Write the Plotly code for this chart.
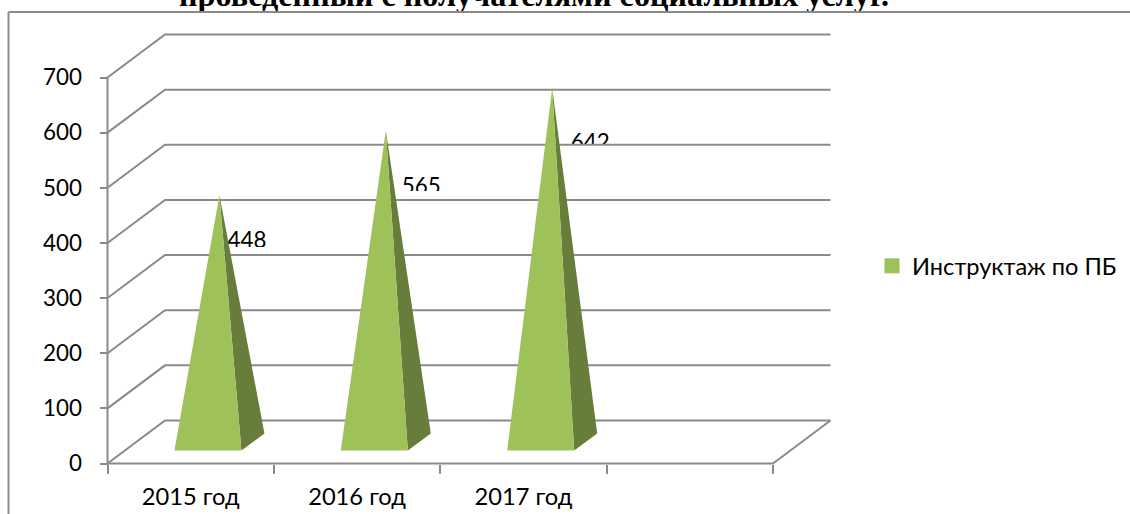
import plotly.graph_objects as go

# --- data ---
categories = ["2015 год", "2016 год", "2017 год"]
values = [448, 565, 642]
series_name = "Инструктаж по ПБ"
y_ticks = [0, 100, 200, 300, 400, 500, 600, 700]
title_text = "<b>проведенный с получателями социальных услуг.</b>"

# --- layout constants (page pixels) ---
W, H = 1130, 514
PX_L, PX_R, PX_B, PX_T = 107.5, 773.0, 463.5, 77.5
N_SLOTS = 4
YMAX = 700
PX_PER_X = (PX_R - PX_L) / N_SLOTS
PX_PER_Y = (PX_B - PX_T) / YMAX
DEPTH_X = 57.5 / PX_PER_X
DEPTH_Y = 43.0 / PX_PER_Y
HALF_W = 33.5 / PX_PER_X
GREY = "#8a8a8a"
FRONT = "#9fc15a"
SIDE = "#677d3b"
FONT = "Lato"


def xd(px):
    return (px - PX_L) / PX_PER_X


def yd(py):
    return (PX_B - py) / PX_PER_Y


fig = go.Figure()

# page-level title, cut by the frame below it
fig.add_trace(go.Scatter(
    x=[xd(534)], y=[yd(14)], mode="text", text=[title_text],
    textfont=dict(family="Liberation Serif", size=32.2, color="black"),
    textposition="top center", hoverinfo="skip", showlegend=False))
fig.add_trace(go.Scatter(
    x=[xd(150), xd(950), xd(950), xd(150), xd(150)],
    y=[yd(11), yd(11), yd(30), yd(30), yd(11)],
    mode="none", fill="toself", fillcolor="white",
    hoverinfo="skip", showlegend=False))

# data labels, cut off as in the reference
label_dx = [27.5, 35.5, 38.0]
label_cy = [242.5, 188.5, 144.5]
label_clip = [247, 191, 144]
centers = [i + 0.5 for i in range(len(values))]
fig.add_trace(go.Scatter(
    x=[c + DEPTH_X / 2 + d / PX_PER_X for c, d in zip(centers, label_dx)],
    y=[yd(p) for p in label_cy],
    mode="text", text=[str(v) for v in values],
    textfont=dict(family=FONT, size=22.4, color="black"),
    textposition="middle center", hoverinfo="skip", showlegend=False))
mx, my = [], []
for c, d, p in zip(centers, label_dx, label_clip):
    cx = c + DEPTH_X / 2 + d / PX_PER_X
    hw = 26 / PX_PER_X
    mx += [cx - hw, cx + hw, cx + hw, cx - hw, cx - hw, None]
    my += [yd(p), yd(p), yd(p + 14), yd(p + 14), yd(p), None]
fig.add_trace(go.Scatter(x=mx, y=my, mode="none", fill="toself", fillcolor="white",
                         hoverinfo="skip", showlegend=False))

# 3D walls: back gridlines, floor edge and the two front axis lines
gx, gy = [], []
for t in y_ticks:
    gx += [0, DEPTH_X, N_SLOTS + DEPTH_X, None]
    gy += [t, t + DEPTH_Y, t + DEPTH_Y, None]
gx += [N_SLOTS, N_SLOTS + DEPTH_X, None]
gy += [0, DEPTH_Y, None]
gx += [0, 0, N_SLOTS, None]
gy += [YMAX, 0, 0, None]
fig.add_trace(go.Scatter(x=gx, y=gy, mode="lines", line=dict(color=GREY, width=2),
                         hoverinfo="skip", showlegend=False))

# pyramids
fx, fy, sx, sy = [], [], [], []
for c, v in zip(centers, values):
    near_x = c + 0.3 * DEPTH_X
    near_y = 0.3 * DEPTH_Y
    far_x = c + 0.7 * DEPTH_X
    far_y = 0.7 * DEPTH_Y
    ax_, ay_ = c + 0.5 * DEPTH_X, 0.5 * DEPTH_Y + v
    fx += [near_x - HALF_W, near_x + HALF_W, ax_, near_x - HALF_W, None]
    fy += [near_y, near_y, ay_, near_y, None]
    sx += [near_x + HALF_W, far_x + HALF_W, ax_, near_x + HALF_W, None]
    sy += [near_y, far_y, ay_, near_y, None]
fig.add_trace(go.Scatter(x=sx, y=sy, mode="none", fill="toself", fillcolor=SIDE,
                         hoverinfo="skip", showlegend=False))
fig.add_trace(go.Scatter(x=fx, y=fy, mode="none", fill="toself", fillcolor=FRONT,
                         hoverinfo="skip", showlegend=False))

# legend entry
fig.add_trace(go.Scatter(x=[None], y=[None], mode="markers", name=series_name,
                         marker=dict(symbol="square", size=15, color=FRONT)))

fig.update_layout(
    width=W, height=H,
    margin=dict(l=0, r=0, t=0, b=0, autoexpand=False),
    paper_bgcolor="white", plot_bgcolor="rgba(0,0,0,0)",
    font=dict(family=FONT, size=22.4, color="black"),
    xaxis=dict(
        domain=[0, 1], range=[xd(0), xd(W)], showgrid=False, zeroline=False,
        showline=False, anchor="free", position=1 - PX_B / H,
        tickmode="array", tickvals=centers, ticktext=categories, ticks="",
        tickfont=dict(family=FONT, size=23.7),
        ticklabelstandoff=17,
        minor=dict(tickmode="array", tickvals=list(range(N_SLOTS + 1)), ticks="outside",
                   ticklen=9, tickwidth=2, tickcolor=GREY, showgrid=False),
    ),
    yaxis=dict(
        domain=[0, 1], range=[yd(H), yd(0)], showgrid=False, zeroline=False,
        showline=False, anchor="free", position=PX_L / W,
        tickmode="array", tickvals=y_ticks, ticks="outside", ticklen=8, tickwidth=2,
        tickcolor=GREY, ticklabelstandoff=13,
    ),
    showlegend=True,
    legend=dict(x=872 / W, y=1 - 266 / H, xanchor="left", yanchor="middle",
                bgcolor="rgba(0,0,0,0)", font=dict(family=FONT, size=23.6)),
    shapes=[
        dict(type="line", xref="paper", yref="paper", x0=8.5 / W, x1=1, y0=1 - 12 / H, y1=1 - 12 / H,
             line=dict(color=GREY, width=2)),
        dict(type="line", xref="paper", yref="paper", x0=8.5 / W, x1=8.5 / W, y0=0, y1=1 - 12 / H,
             line=dict(color=GREY, width=2)),
    ],
)

fig.write_html("out.html", config={"displayModeBar": False},
               post_script="document.body.style.margin='0';")
